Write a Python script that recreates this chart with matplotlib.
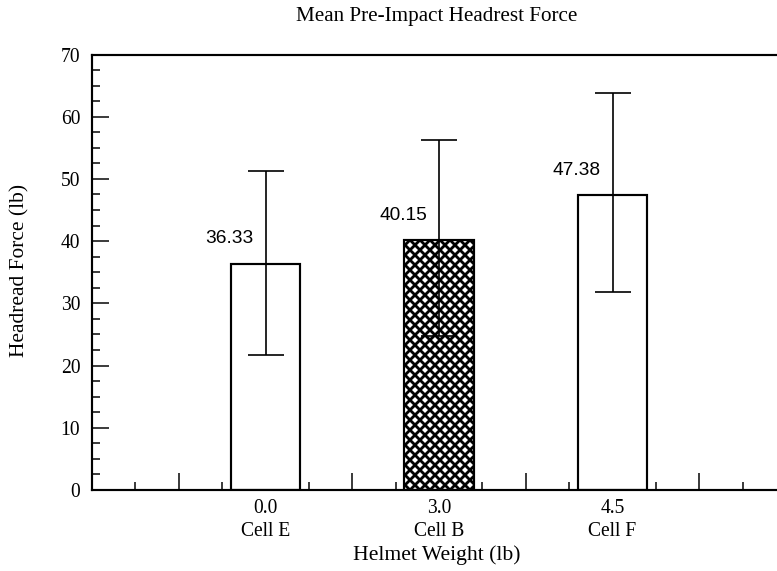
import matplotlib
matplotlib.use("Agg")
import matplotlib.pyplot as plt
import numpy as np

# ---- data ----
weights = ["0.0", "3.0", "4.5"]
cells = ["Cell E", "Cell B", "Cell F"]
means = [36.33, 40.15, 47.38]
err_lower = [14.7, 15.35, 15.5]
err_upper = [15.0, 16.15, 16.5]
hatches = ["", "xxxx", ""]

title = "Mean Pre-Impact Headrest Force"
xlabel = "Helmet Weight (lb)"
ylabel = "Headread Force (lb)"

DPI = 120
W, H = 777, 571
plt.rcParams['hatch.linewidth'] = 1.7
fig = plt.figure(figsize=(W / DPI, H / DPI), dpi=DPI)

serif = ["Liberation Serif", "DejaVu Serif"]
sans = ["Liberation Sans", "DejaVu Sans"]

# axes geometry in pixels
left_px, top_px, bottom_px = 92, 54.5, 490
unit_px = 173.5
ax = fig.add_axes([left_px / W, (H - bottom_px) / H, 4 * unit_px / W, (bottom_px - top_px) / H])

x = np.arange(len(means))
bars = ax.bar(x, means, width=0.4, color="white", edgecolor="black", linewidth=1.3, zorder=2)
for b, h in zip(bars, hatches):
    if h:
        b.set_hatch(h)
ax.errorbar(x, means, yerr=[err_lower, err_upper], fmt="none", ecolor="black",
            elinewidth=1.0, capsize=10.8, capthick=1.0, zorder=3)

for xi, m in zip(x, means):
    ax.annotate(f"{m:.2f}", xy=(xi, m), xytext=(-12, 25), textcoords="offset pixels",
                ha="right", va="center", fontsize=11.5, family=sans)

ax.set_xlim(-1, 3)
ax.set_ylim(0, 70)

ax.set_yticks(np.arange(0, 71, 10))
ax.set_yticks(np.arange(0, 70.1, 2.5), minor=True)
ax.set_yticklabels([str(v) for v in range(0, 71, 10)], family=serif, fontsize=11.8)

major_x = np.arange(-0.5, 2.6, 0.5)
ax.set_xticks(major_x)
labels = []
for v in major_x:
    if abs(v - round(v)) < 1e-9 and 0 <= round(v) < len(weights):
        i = int(round(v))
        labels.append(f"{weights[i]}\n{cells[i]}")
    else:
        labels.append("")
ax.set_xticklabels(labels, family=serif, fontsize=11.8, linespacing=1.3)
ax.set_xticks(np.arange(-0.75, 2.9, 0.5), minor=True)

ax.tick_params(axis="both", which="major", direction="in", length=10.2, width=0.9, color="black")
ax.tick_params(axis="both", which="minor", direction="in", length=5.0, width=0.9, color="black")
ax.tick_params(axis="y", which="major", pad=7)
ax.tick_params(axis="x", which="major", pad=5.5)
ax.tick_params(axis="x", which="both", top=False)
ax.tick_params(axis="y", which="both", right=False)

ax.spines["right"].set_visible(False)
for s in ["left", "bottom", "top"]:
    ax.spines[s].set_linewidth(1.3)

fig.text(437 / W, 1 - 16 / H, title, ha="center", va="center", family=serif, fontsize=12.7)
fig.text(437 / W, 1 - 555 / H, xlabel, ha="center", va="center", family=serif, fontsize=13)
fig.text(20 / W, 1 - 270 / H, ylabel, ha="center", va="center", rotation=90, family=serif, fontsize=12.8)

fig.savefig("out.png", dpi=DPI)
